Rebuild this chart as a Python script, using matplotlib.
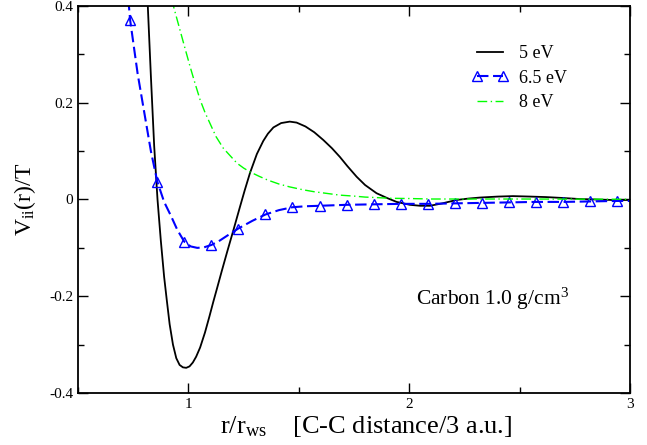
import numpy as np
import matplotlib
matplotlib.use("Agg")
import matplotlib.pyplot as plt
from matplotlib.ticker import MultipleLocator, FixedLocator

plt.rcParams['font.family'] = ['Liberation Serif', 'DejaVu Serif']
plt.rcParams['mathtext.fontset'] = 'custom'
plt.rcParams['mathtext.rm'] = 'Liberation Serif'
plt.rcParams['mathtext.it'] = 'Liberation Serif:italic'
plt.rcParams['axes.unicode_minus'] = False

# 5 eV (solid black)
r_5 = [0.80, 0.816, 0.83, 0.845, 0.86, 0.875, 0.89, 0.902, 0.915, 0.93, 0.945, 0.96, 0.975,
       0.99, 1.005, 1.02, 1.035, 1.053, 1.075, 1.095, 1.113, 1.13, 1.151, 1.175, 1.204,
       1.233, 1.255, 1.279, 1.31, 1.339, 1.36, 1.385, 1.42, 1.459, 1.49, 1.53, 1.57,
       1.611, 1.65, 1.686, 1.72, 1.762, 1.80, 1.852, 1.90, 1.943, 2.003, 2.05, 2.094,
       2.15, 2.214, 2.27, 2.32, 2.40, 2.47, 2.55, 2.62, 2.70, 2.77, 2.85, 2.92, 3.0]
v_5 = [0.56, 0.40, 0.255, 0.11, 0.0, -0.085, -0.16, -0.208, -0.258, -0.300, -0.328, -0.342, -0.347,
       -0.348, -0.345, -0.337, -0.325, -0.306, -0.275, -0.242, -0.211, -0.183, -0.148, -0.109, -0.063,
       -0.016, 0.019, 0.055, 0.094, 0.121, 0.136, 0.149, 0.158, 0.161, 0.159, 0.151, 0.139,
       0.123, 0.106, 0.088, 0.069, 0.047, 0.030, 0.013, 0.003, -0.005, -0.011, -0.013, -0.013,
       -0.008, -0.001, 0.002, 0.004, 0.006, 0.007, 0.006, 0.005, 0.003, 0.001, 0.000, -0.001, -0.001]

# 6.5 eV (blue dashed, triangles)
r_65 = [0.715, 0.736, 0.77, 0.80, 0.83, 0.859, 0.89, 0.92, 0.95, 0.981, 1.01, 1.04, 1.07,
        1.104, 1.135, 1.165, 1.195, 1.226, 1.29, 1.349, 1.41, 1.471, 1.53,
        1.594, 1.717, 1.839, 1.962, 2.084, 2.207, 2.330, 2.452, 2.575, 2.697,
        2.820, 2.943, 3.0]
v_65 = [0.48, 0.371, 0.26, 0.18, 0.10, 0.037, -0.005, -0.033, -0.063, -0.087, -0.097, -0.100, -0.099,
        -0.094, -0.087, -0.078, -0.069, -0.060, -0.044, -0.031, -0.022, -0.016, -0.014,
        -0.013, -0.011, -0.010, -0.009, -0.009, -0.008, -0.007, -0.006, -0.005, -0.005,
        -0.004, -0.003, -0.003]
marks_65 = [1, 5, 9, 13, 17, 19, 21, 23, 24, 25, 26, 27, 28, 29, 30, 31, 32, 33, 34]

# 8 eV (green dash-dot)
r_8 = [0.90, 0.932, 0.95, 0.98, 1.008, 1.03, 1.053, 1.075, 1.098, 1.125, 1.158, 1.19,
       1.22, 1.25, 1.279, 1.32, 1.36, 1.41, 1.459, 1.52, 1.57, 1.62, 1.686, 1.75,
       1.80, 1.85, 1.912, 2.0, 2.1, 2.5, 3.0]
v_8 = [0.47, 0.40, 0.37, 0.32, 0.274, 0.24, 0.206, 0.18, 0.157, 0.13, 0.106, 0.09,
       0.075, 0.065, 0.057, 0.048, 0.040, 0.032, 0.026, 0.020, 0.016, 0.013, 0.009, 0.007,
       0.005, 0.004, 0.0025, 0.002, 0.001, 0.001, 0.0005]

fig = plt.figure(figsize=(6.47, 4.45), dpi=100)
ax = fig.add_axes([0.1206, 0.1169, 0.8531, 0.8696])

ax.plot(r_5, v_5, color='black', lw=1.3, label='5 eV')
ax.plot(r_65, v_65, color='#0000ff', lw=1.5, dashes=(5.5, 2.2), marker='^', ms=7.5,
        mfc='none', mec='#0000ff', mew=1.0, markevery=marks_65, label='6.5 eV')
ax.plot(r_8, v_8, color='#00ff00', lw=1.0, dashes=(7, 2.5, 1, 2.5), label='8 eV')

ax.set_xlim(0.5, 3.0)
ax.set_ylim(-0.4, 0.4)
ax.xaxis.set_major_locator(FixedLocator([1, 2, 3]))
ax.xaxis.set_minor_locator(FixedLocator([0.5, 1.5, 2.5]))
ax.yaxis.set_major_locator(MultipleLocator(0.2))
ax.yaxis.set_minor_locator(MultipleLocator(0.1))
ax.set_yticks([-0.4, -0.2, 0, 0.2, 0.4])
ax.set_yticklabels(['-0.4', '-0.2', '0', '0.2', '0.4'])
ax.set_xticklabels(['1', '2', '3'])
ax.tick_params(which='both', direction='in', top=True, right=True, labelsize=11, width=1.0)
ax.tick_params(which='major', length=7)
ax.tick_params(which='minor', length=4)
for s in ax.spines.values():
    s.set_linewidth(1.3)

ax.set_xlabel(r'r/r$_{\mathrm{ws}}$    [C-C distance/3 a.u.]', fontsize=19)
ax.xaxis.set_label_coords(0.522, -0.055, transform=ax.transAxes)
ax.set_ylabel(r'V$_{\mathrm{ii}}$(r)/T', fontsize=17, labelpad=8)

ax.text(0.612, 0.227, r'Carbon 1.0 g/cm$^{3}$', transform=ax.transAxes, fontsize=15.5,
        va='baseline')

ax.legend(loc='upper right', bbox_to_anchor=(0.915, 0.94), frameon=False, fontsize=13,
          numpoints=2, handlelength=2.0, handletextpad=0.6, labelspacing=0.4)

fig.savefig('out.png', dpi=100)
